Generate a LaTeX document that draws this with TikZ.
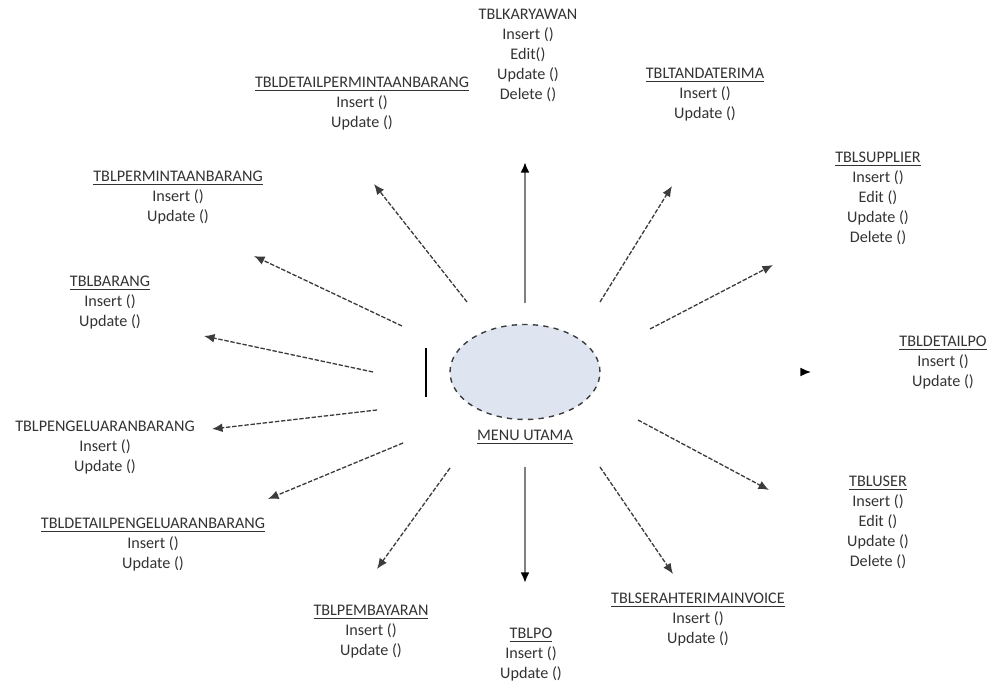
\documentclass[tikz,border=0pt]{standalone}
\usepackage{fontspec}
\setmainfont{Carlito}
\usepackage{xcolor}
\definecolor{menuFill}{RGB}{222,229,241}
\definecolor{lineGray}{RGB}{60,60,60}
\usetikzlibrary{arrows.meta,shapes.geometric}

\begin{document}
\begin{tikzpicture}[
    x=0.02cm, y=-0.02cm,
    tableNode/.style={
        align=center, anchor=north, inner sep=0pt,
        font=\fontsize{9.2}{11.3}\selectfont, text=black!80
    },
    menuNode/.style={
        ellipse, draw=lineGray, dashed, line width=0.8pt,
        fill=menuFill, minimum width=3cm, minimum height=1.9cm
    },
    dashArrow/.style={
        -{Latex[length=6pt,width=5pt]}, draw=lineGray,
        line width=0.75pt, dash pattern=on 2.5pt off 1pt
    },
    solidArrow/.style={
        -{Latex[length=6pt,width=5pt,black]}, draw=black!50, line width=1.6pt
    }
]
    \useasboundingbox (0,0) rectangle (995,685);

    % Central menu
    \node[menuNode] (menu) at (525,372) {};
    \node[tableNode] (menulabel) at (525,430) {\underline{MENU UTAMA}};
    \draw[black, line width=0.9pt] (426,348) -- (426,397);

    % Tables, clockwise from the top
    \node[tableNode] (karyawan) at (528,9) {TBLKARYAWAN\\Insert ()\\Edit()\\Update ()\\Delete ()};
    \node[tableNode] (tandaterima) at (705,68) {\underline{TBLTANDATERIMA}\\Insert ()\\Update ()};
    \node[tableNode] (supplier) at (878,152) {\underline{TBLSUPPLIER}\\Insert ()\\Edit ()\\Update ()\\Delete ()};
    \node[tableNode] (detailpo) at (943,336) {\underline{TBLDETAILPO}\\Insert ()\\Update ()};
    \node[tableNode] (user) at (878,476) {\underline{TBLUSER}\\Insert ()\\Edit ()\\Update ()\\Delete ()};
    \node[tableNode] (serahterima) at (698,593) {\underline{TBLSERAHTERIMAINVOICE}\\Insert ()\\Update ()};
    \node[tableNode] (po) at (531,628) {\underline{TBLPO}\\Insert ()\\Update ()};
    \node[tableNode] (pembayaran) at (371,605) {\underline{TBLPEMBAYARAN}\\Insert ()\\Update ()};
    \node[tableNode] (detailkeluar) at (153,518) {\underline{TBLDETAILPENGELUARANBARANG}\\Insert ()\\Update ()};
    \node[tableNode] (pengeluaran) at (105,421) {TBLPENGELUARANBARANG\\Insert ()\\Update ()};
    \node[tableNode] (barang) at (110,276) {\underline{TBLBARANG}\\Insert ()\\Update ()};
    \node[tableNode] (permintaan) at (178,171) {\underline{TBLPERMINTAANBARANG}\\Insert ()\\Update ()};
    \node[tableNode] (detailminta) at (362,77) {\underline{TBLDETAILPERMINTAANBARANG}\\Insert ()\\Update ()};

    % Arrow ends
    \coordinate (kar-s) at (525,303);   \coordinate (kar-e) at (525,162);
    \coordinate (tt-s) at (600,302);    \coordinate (tt-e) at (672,186);
    \coordinate (sup-s) at (650,329);   \coordinate (sup-e) at (773,265);
    \coordinate (dpo-s) at (700,372);   \coordinate (dpo-e) at (811,372);
    \coordinate (usr-s) at (638,420);   \coordinate (usr-e) at (769,490);
    \coordinate (sti-s) at (600,467);   \coordinate (sti-e) at (673,574);
    \coordinate (po-s) at (525,467);    \coordinate (po-e) at (525,583);
    \coordinate (byr-s) at (450,468);   \coordinate (byr-e) at (377,569);
    \coordinate (dkl-s) at (403,443);   \coordinate (dkl-e) at (268,499);
    \coordinate (klr-s) at (377,410);   \coordinate (klr-e) at (212,429);
    \coordinate (brg-s) at (373,372);   \coordinate (brg-e) at (204,336);
    \coordinate (pmt-s) at (402,326);   \coordinate (pmt-e) at (254,256);
    \coordinate (dpm-s) at (467,302);   \coordinate (dpm-e) at (374,184);

    % Connectors
    \draw[solidArrow] (kar-s) -- (kar-e);
    \draw[dashArrow] (tt-s) -- (tt-e);
    \draw[dashArrow] (sup-s) -- (sup-e);
    \draw[dashArrow, draw=white, -{Latex[length=6pt,width=5pt,black]}] (dpo-s) -- (dpo-e);
    \draw[dashArrow] (usr-s) -- (usr-e);
    \draw[dashArrow] (sti-s) -- (sti-e);
    \draw[solidArrow] (po-s) -- (po-e);
    \draw[dashArrow] (byr-s) -- (byr-e);
    \draw[dashArrow] (dkl-s) -- (dkl-e);
    \draw[dashArrow] (klr-s) -- (klr-e);
    \draw[dashArrow] (brg-s) -- (brg-e);
    \draw[dashArrow] (pmt-s) -- (pmt-e);
    \draw[dashArrow] (dpm-s) -- (dpm-e);

\end{tikzpicture}
\end{document}
